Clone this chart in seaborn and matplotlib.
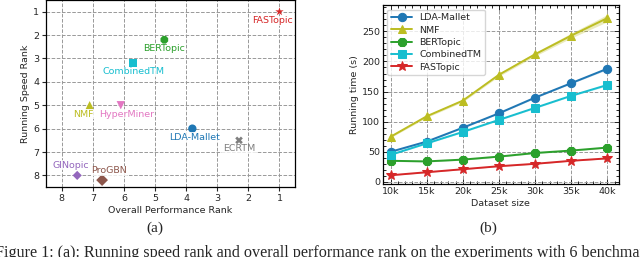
import numpy as np
import pandas as pd
import matplotlib
matplotlib.use('Agg')
import matplotlib.pyplot as plt
import seaborn as sns
from matplotlib.ticker import MultipleLocator

# (a) speed rank vs performance rank
models = ['FASTopic', 'BERTopic', 'CombinedTM', 'NMF', 'HyperMiner',
          'LDA-Mallet', 'ECRTM', 'GINopic', 'ProGBN']
perf_rank = [1.0, 4.7, 5.7, 7.1, 6.1, 3.8, 2.3, 7.5, 6.7]
speed_rank = [1.0, 2.2, 3.2, 5.0, 5.0, 6.0, 6.5, 8.0, 8.2]

# (b) running time vs dataset size
sizes = [10, 15, 20, 25, 30, 35, 40]
size_labels = ['10k', '15k', '20k', '25k', '30k', '35k', '40k']
lda_time = [50, 67, 90, 114, 140, 164, 188]
nmf_time = [75, 109, 135, 178, 212, 243, 272]
bert_time = [35, 34, 37, 42, 48, 52, 57]
ctm_time = [45, 64, 83, 103, 123, 143, 161]
fast_time = [11, 16, 21, 26, 30, 35, 39]
# half width of the shaded band
lda_sd = [1, 1, 1, 1, 1, 1, 1.5]
nmf_sd = [1.5, 2, 2, 2.5, 3, 4, 6]
bert_sd = [1, 1, 1, 1, 1, 1, 1]
ctm_sd = [1, 1, 1, 1, 1, 1, 1.5]
fast_sd = [0.5, 0.5, 0.5, 0.5, 0.5, 0.5, 0.5]

sns.set_theme(style='white')
plt.rcParams['font.family'] = ['DejaVu Sans']
fs = 6.8

colors = {'FASTopic': '#d62728', 'BERTopic': '#2ca02c', 'CombinedTM': '#17becf',
          'NMF': '#bcbd22', 'HyperMiner': '#e377c2', 'LDA-Mallet': '#1f77b4',
          'ECRTM': '#7f7f7f', 'GINopic': '#9467bd', 'ProGBN': '#8c564b'}
markers = {'FASTopic': '*', 'BERTopic': '8', 'CombinedTM': 's', 'NMF': '^',
           'HyperMiner': 'v', 'LDA-Mallet': 'o', 'ECRTM': 'X', 'GINopic': 'D',
           'ProGBN': 'D'}
msize = {'FASTopic': 40, 'BERTopic': 36, 'CombinedTM': 36, 'NMF': 36,
         'HyperMiner': 36, 'LDA-Mallet': 36, 'ECRTM': 30, 'GINopic': 22,
         'ProGBN': 36}
# label offsets in pixels (x right, y up)
offsets = {'FASTopic': (-7, -9), 'BERTopic': (0, -9), 'CombinedTM': (0, -8.5),
           'NMF': (-6, -9), 'HyperMiner': (6, -9), 'LDA-Mallet': (2, -8.7),
           'ECRTM': (0, -8.5), 'GINopic': (-6, 10), 'ProGBN': (7, 9.3)}

fig = plt.figure(figsize=(6.4, 2.57), dpi=100)
ax1 = fig.add_axes([0.072, 0.272, 0.389, 0.728])
ax2 = fig.add_axes([0.598, 0.283, 0.369, 0.698])

df_a = pd.DataFrame({'model': models, 'perf': perf_rank, 'speed': speed_rank})
sns.scatterplot(data=df_a, x='perf', y='speed', hue='model', style='model',
                size='model', sizes=msize, palette=colors, markers=markers,
                legend=False, ax=ax1, edgecolor='none', zorder=3)
for m, xv, yv in zip(models, perf_rank, speed_rank):
    dx, dy = offsets[m]
    ax1.annotate(m, (xv, yv), xytext=(dx, dy), textcoords='offset pixels',
                 ha='center', va='center', color=colors[m], fontsize=fs,
                 bbox=dict(boxstyle='square,pad=0.05', fc='white', ec='none', alpha=0.8))
ax1.set_xlim(8.5, 0.5)
ax1.set_ylim(8.5, 0.5)
ax1.set_xticks(range(1, 9))
ax1.set_yticks(range(1, 9))
ax1.grid(True, linestyle='--', color='0.6', linewidth=0.7)
ax1.set_xlabel('Overall Performance Rank', fontsize=fs, labelpad=2)
ax1.set_ylabel('Running Speed Rank', fontsize=fs, labelpad=2)
ax1.tick_params(labelsize=fs, direction='out', length=3, width=0.8, pad=2,
                bottom=True, left=True)
for s in ax1.spines.values():
    s.set_color('black')
    s.set_linewidth(0.9)

# (b)
series = [('LDA-Mallet', lda_time, lda_sd, 'o'), ('NMF', nmf_time, nmf_sd, '^'),
          ('BERTopic', bert_time, bert_sd, '8'), ('CombinedTM', ctm_time, ctm_sd, 's'),
          ('FASTopic', fast_time, fast_sd, '*')]
for name, vals, sd, mk in series:
    d = pd.DataFrame({'size': sizes, 'time': vals})
    sns.lineplot(data=d, x='size', y='time', ax=ax2, color=colors[name], marker=mk,
                 markersize=6 if mk != '*' else 7, markeredgecolor=colors[name],
                 linewidth=1.4, label=name)
    lo = [v - e for v, e in zip(vals, sd)]
    hi = [v + e for v, e in zip(vals, sd)]
    ax2.fill_between(sizes, lo, hi, color=colors[name], alpha=0.3, linewidth=0)
ax2.set_xticks(sizes)
ax2.set_xticklabels(size_labels)
ax2.set_xlim(8.9, 41.6)
ax2.set_ylim(-4, 294)
ax2.set_yticks([0, 50, 100, 150, 200, 250])
ax2.xaxis.set_minor_locator(MultipleLocator(1))
ax2.yaxis.set_minor_locator(MultipleLocator(10))
ax2.grid(True, which='major', linestyle='--', color='0.6', linewidth=0.7)
ax2.tick_params(which='both', direction='in', top=True, right=True,
                bottom=True, left=True, labelsize=fs, width=0.7, pad=2)
ax2.tick_params(which='major', length=3.5)
ax2.tick_params(which='minor', length=2)
ax2.set_xlabel('Dataset size', fontsize=fs, labelpad=2)
ax2.set_ylabel('Running time (s)', fontsize=fs, labelpad=2)
for s in ax2.spines.values():
    s.set_color('black')
    s.set_linewidth(0.9)
leg = ax2.legend(loc='upper left', fontsize=fs, frameon=True, fancybox=True,
                 borderpad=0.4, labelspacing=0.35, handlelength=2.2)
leg.get_frame().set_edgecolor('0.8')

fig.text(155 / 640, 1 - 228 / 257, '(a)', ha='center', va='center',
         family='Liberation Serif', fontsize=11)
fig.text(488 / 640, 1 - 228 / 257, '(b)', ha='center', va='center',
         family='Liberation Serif', fontsize=11)
fig.text(-5 / 640, 1 - 245 / 257,
         'Figure 1: (a): Running speed rank and overall performance rank on the '
         'experiments with 6 benchmark datasets.',
         ha='left', va='top', family='Liberation Serif', fontsize=11.6)

fig.savefig('out.png', dpi=100)
